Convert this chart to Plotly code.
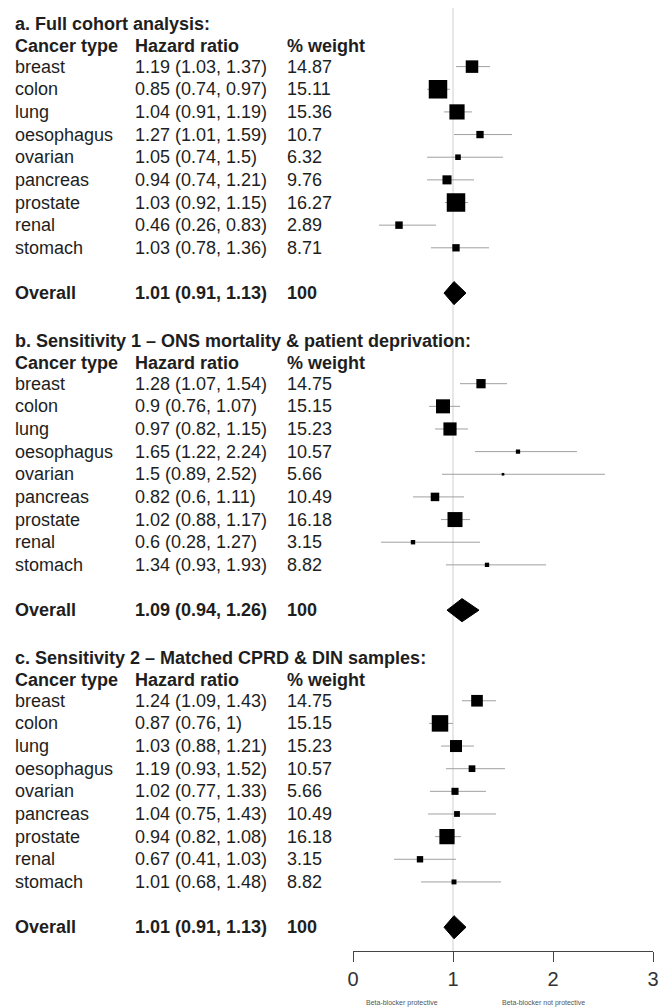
import plotly.graph_objects as go

# ---------------- data ----------------
cancer_types = ["breast", "colon", "lung", "oesophagus", "ovarian",
                "pancreas", "prostate", "renal", "stomach"]

section_titles = [
    "a. Full cohort analysis:",
    "b. Sensitivity 1 \u2013 ONS mortality & patient deprivation:",
    "c. Sensitivity 2 \u2013 Matched CPRD & DIN samples:",
]
col_headers = ["Cancer type", "Hazard ratio", "% weight"]

hr_a = [1.19, 0.85, 1.04, 1.27, 1.05, 0.94, 1.03, 0.46, 1.03]
lo_a = [1.03, 0.74, 0.91, 1.01, 0.74, 0.74, 0.92, 0.26, 0.78]
hi_a = [1.37, 0.97, 1.19, 1.59, 1.50, 1.21, 1.15, 0.83, 1.36]
wt_a = [14.87, 15.11, 15.36, 10.7, 6.32, 9.76, 16.27, 2.89, 8.71]
overall_a = [1.01, 0.91, 1.13, 100]

hr_b = [1.28, 0.90, 0.97, 1.65, 1.50, 0.82, 1.02, 0.60, 1.34]
lo_b = [1.07, 0.76, 0.82, 1.22, 0.89, 0.60, 0.88, 0.28, 0.93]
hi_b = [1.54, 1.07, 1.15, 2.24, 2.52, 1.11, 1.17, 1.27, 1.93]
wt_b = [14.75, 15.15, 15.23, 10.57, 5.66, 10.49, 16.18, 3.15, 8.82]
overall_b = [1.09, 0.94, 1.26, 100]

hr_c = [1.24, 0.87, 1.03, 1.19, 1.02, 1.04, 0.94, 0.67, 1.01]
lo_c = [1.09, 0.76, 0.88, 0.93, 0.77, 0.75, 0.82, 0.41, 0.68]
hi_c = [1.43, 1.00, 1.21, 1.52, 1.33, 1.43, 1.08, 1.03, 1.48]
wt_c = [14.75, 15.15, 15.23, 10.57, 5.66, 10.49, 16.18, 3.15, 8.82]
overall_c = [1.01, 0.91, 1.13, 100]

x_ticks = [0, 1, 2, 3]
x_captions = ["Beta-blocker protective", "Beta-blocker not protective"]

# ---------------- styles ----------------
FONT = "Liberation Sans, Arial, sans-serif"
TXT = "#1e1e1e"
ROWS_PER_SECTION = 14
BOX_MAX = [18.5, 15.0, 16.5]       # px size of the largest box per panel
DIAMOND_HALF = 0.51                 # rows
PLOT_L, PLOT_W = 353, 300
COL_PX = [13, 133, 285]             # left edge of the text columns (px)


def px_to_paper(px):
    return (px - PLOT_L) / PLOT_W


def fmt(v):
    return f"{v:g}"


sections = [
    (hr_a, lo_a, hi_a, wt_a, overall_a),
    (hr_b, lo_b, hi_b, wt_b, overall_b),
    (hr_c, lo_c, hi_c, wt_c, overall_c),
]

fig = go.Figure()
annotations = []

for s, (hr, lo, hi, wt, ov) in enumerate(sections):
    base = s * ROWS_PER_SECTION
    rows = [base + 2 + i for i in range(len(cancer_types))]
    ov_row = base + 12

    # CI lines
    xs, ys = [], []
    for l, h, r in zip(lo, hi, rows):
        xs += [l, h, None]
        ys += [r, r, None]
    fig.add_trace(go.Scatter(x=xs, y=ys, mode="lines",
                             line=dict(color="#a0a0a0", width=1),
                             hoverinfo="skip", showlegend=False))

    # boxes, sized by precision (1 / CI width)
    info = [1.0 / (h - l) for l, h in zip(lo, hi)]
    mx = max(info)
    sizes = [BOX_MAX[s] * v / mx for v in info]
    fig.add_trace(go.Scatter(x=hr, y=rows, mode="markers",
                             marker=dict(symbol="square", size=sizes, opacity=1,
                                         color="black", line=dict(width=0)),
                             showlegend=False))

    # overall diamond
    o_hr, o_lo, o_hi, o_w = ov
    fig.add_trace(go.Scatter(
        x=[o_lo, o_hr, o_hi, o_hr, o_lo],
        y=[ov_row, ov_row - DIAMOND_HALF, ov_row, ov_row + DIAMOND_HALF, ov_row],
        mode="lines", fill="toself", fillcolor="black",
        line=dict(color="black", width=1), showlegend=False))

    # text
    annotations.append(dict(x=px_to_paper(COL_PX[0]), y=base, xref="paper", yref="y",
                            text=f"<b>{section_titles[s]}</b>", showarrow=False,
                            xanchor="left", yanchor="middle", yshift=-3,
                            font=dict(family=FONT, size=18, color=TXT)))
    for c, head in enumerate(col_headers):
        annotations.append(dict(x=px_to_paper(COL_PX[c]), y=base + 1, xref="paper", yref="y",
                                text=f"<b>{head}</b>", showarrow=False,
                                xanchor="left", yanchor="middle", yshift=-2,
                                font=dict(family=FONT, size=18, color=TXT)))
    for name, h, l, u, w, r in zip(cancer_types, hr, lo, hi, wt, rows):
        cells = [name, f"{fmt(h)} ({fmt(l)}, {fmt(u)})", fmt(w)]
        for c, t in enumerate(cells):
            annotations.append(dict(x=px_to_paper(COL_PX[c]), y=r, xref="paper", yref="y",
                                    text=t, showarrow=False,
                                    xanchor="left", yanchor="middle",
                                    font=dict(family=FONT, size=18, color=TXT)))
    cells = ["Overall", f"{fmt(o_hr)} ({fmt(o_lo)}, {fmt(o_hi)})", fmt(o_w)]
    for c, t in enumerate(cells):
        annotations.append(dict(x=px_to_paper(COL_PX[c]), y=ov_row, xref="paper", yref="y",
                                text=f"<b>{t}</b>", showarrow=False,
                                xanchor="left", yanchor="middle",
                                font=dict(family=FONT, size=18, color=TXT)))

# captions under the axis
for xc, cap in zip([px_to_paper(402), px_to_paper(543)], x_captions):
    annotations.append(dict(x=xc, y=0, xref="paper", yref="paper", yshift=-52,
                            text=cap, showarrow=False, xanchor="center",
                            yanchor="middle",
                            font=dict(family=FONT, size=7, color="#555")))

fig.update_layout(
    width=660, height=1008,
    margin=dict(l=PLOT_L, r=660 - PLOT_L - PLOT_W, t=10, b=57, autoexpand=False),
    paper_bgcolor="white", plot_bgcolor="white",
    showlegend=False,
    hovermode=False,
    annotations=annotations,
    shapes=[dict(type="line", xref="x", yref="paper", x0=1, x1=1, y0=0, y1=1.002,
                 line=dict(color="#cfcfcf", width=1), layer="below")],
    xaxis=dict(range=[0, 3], tickvals=x_ticks, ticktext=[str(t) for t in x_ticks],
               showgrid=False, zeroline=False, showline=True,
               linecolor="#444", linewidth=1, ticks="outside", ticklen=10,
               tickwidth=1, tickcolor="#444",
               tickfont=dict(family=FONT, size=20, color="#333")),
    yaxis=dict(range=[41.05, -0.5], visible=False, showgrid=False, zeroline=False),
)

fig.write_html("out.html",
               config={"displayModeBar": False},
               post_script="document.body.style.margin='0';")
